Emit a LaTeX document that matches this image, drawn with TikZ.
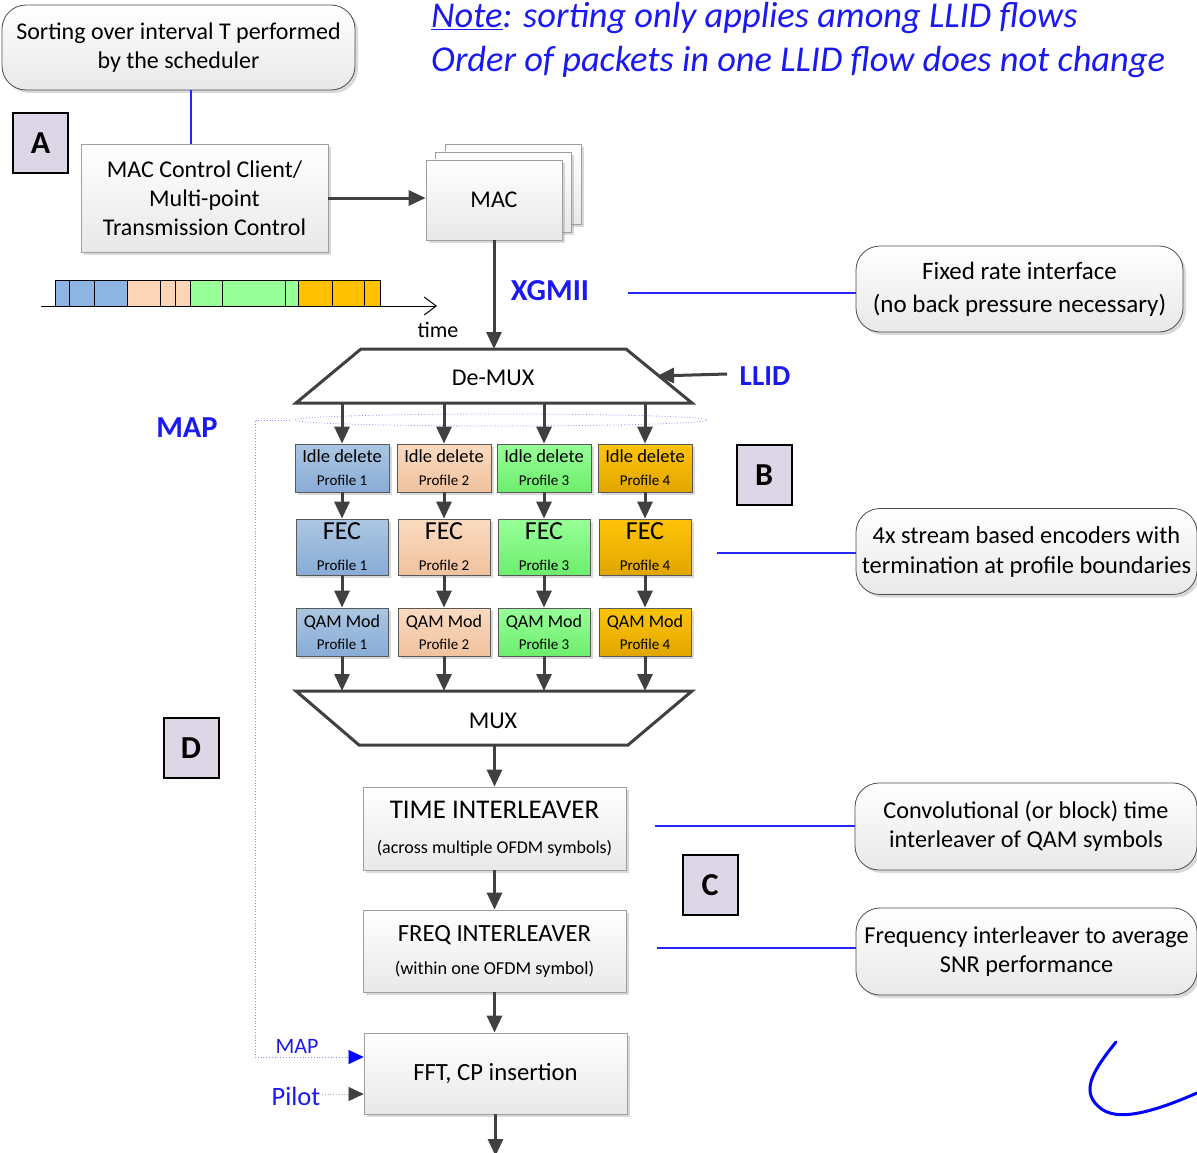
\documentclass[tikz,border=0pt]{standalone}
\usepackage{fontspec}
\setmainfont{Carlito}
\usetikzlibrary{arrows.meta,shadows,calc}
\definecolor{arr}{HTML}{404040}
\definecolor{lav}{HTML}{DCD6E6}
\definecolor{txtblue}{HTML}{1A1AF0}
\definecolor{bA}{HTML}{ABC6E2}\definecolor{bB}{HTML}{88ACD6}
\definecolor{pA}{HTML}{FADAC0}\definecolor{pB}{HTML}{F0C29E}
\definecolor{gA}{HTML}{98FF98}\definecolor{gB}{HTML}{6CEE6C}
\definecolor{oA}{HTML}{FFC408}\definecolor{oB}{HTML}{E0A600}
\definecolor{tlb}{HTML}{8DB4E2}\definecolor{tlp}{HTML}{FBD5B5}
\definecolor{tlg}{HTML}{99FF99}\definecolor{tlo}{HTML}{FFC000}
\newcommand{\fs}[2]{\fontsize{#1}{#2}\selectfont}
\tikzset{
  shad/.style={drop shadow={opacity=0.3,shadow xshift=3pt,shadow yshift=-3pt}},
  graybox/.style={draw=gray!75, line width=0.8pt, top color=white, bottom color=gray!18, shad, align=center, inner sep=0pt},
  callout/.style={graybox, draw=gray!60!black, rounded corners=24pt, minimum height=86pt},
  flow/.style={draw=arr, line width=3pt, -{Triangle[length=17pt,width=15pt]}},
  letterbox/.style={draw=black, line width=2pt, fill=lav, minimum width=55pt, minimum height=60pt, font=\fs{32}{32}\bfseries, inner sep=0pt},
  bluelink/.style={draw=blue!85!white, line width=1.2pt},
  profbox/.style={draw=gray!70!black, line width=0.8pt, shad, align=center, inner sep=0pt},
  idle/.style={profbox, minimum width=94pt, minimum height=48pt, font=\fs{18.5}{23}},
  fec/.style={profbox, minimum width=92pt, minimum height=56pt, font=\fs{26}{31}},
  qam/.style={profbox, minimum width=92pt, minimum height=48pt, font=\fs{18}{22}},
  c1/.style={top color=bA, bottom color=bB},
  c2/.style={top color=pA, bottom color=pB},
  c3/.style={top color=gA, bottom color=gB},
  c4/.style={top color=oA, bottom color=oB},
  trap/.style={draw=arr, line width=3pt, fill=white, line join=miter},
  seg/.style={draw=black, line width=1pt},
  dots/.style={draw=blue!45!white, line width=0.8pt, dotted},
}
\begin{document}
\begin{tikzpicture}[x=1pt,y=-1pt]
\useasboundingbox (0,0) rectangle (1197,1153);

% --- top callout and A
\node[callout, minimum width=353pt, minimum height=85pt, font=\fs{24}{29}] (sort) at (178.5,47.5) {Sorting over interval T performed\\by the scheduler};
\node[letterbox] (A) at (40.5,143) {A};
\node[graybox, minimum width=247pt, minimum height=108pt, font=\fs{24}{29}] (mcc) at (204.5,198) {MAC Control Client/\\Multi-point\\Transmission Control};
\draw[bluelink] (sort.south -| 191,0) -- (mcc.north -| 191,0);

% --- MAC stack
\node[graybox, minimum width=136pt, minimum height=80pt] (mac3) at (513,184) {};
\node[graybox, minimum width=136pt, minimum height=80pt] (mac2) at (503,192) {};
\node[graybox, minimum width=136pt, minimum height=80pt, font=\fs{24}{29}] (mac) at (494,200) {MAC};
\draw[flow] (mcc.east) -- (mcc.east -| mac.west);

% --- note text
\node[anchor=west, text=txtblue, font=\fs{36.4}{42}\itshape, inner sep=0pt] (note1) at (431,18) {\underline{Note}: sorting only applies among LLID flows};
\node[anchor=west, text=txtblue, font=\fs{36.4}{42}\itshape, inner sep=0pt] (note2) at (431,62) {Order of packets in one LLID flow does not change};

% --- timeline
\coordinate (t0) at (41,306);
\coordinate (t1) at (437,306);
\draw[seg, -{Straight Barb[length=12pt,width=18pt,line width=1pt]}] (t0) -- (t1);
\foreach \a/\b/\c in {55/69/tlb,69/94/tlb,94/127/tlb,127/160/tlp,160/175/tlp,175/190/tlp,190/222/tlg,222/285/tlg,285/298/tlg,298/332/tlo,332/364/tlo,364/380/tlo}
  \draw[seg, fill=\c] (\a,280) rectangle (\b,306);
\node[font=\fs{22}{26}, inner sep=0pt] (time) at (438,330) {time};

% --- XGMII
\node[font=\fs{30.5}{34}\bfseries, text=txtblue, inner sep=0pt] (xgmii) at (550,291) {XGMII};
\node[callout, minimum width=327pt, font=\fs{25}{33}] (fixed) at (1019.5,289) {Fixed rate interface\\(no back pressure necessary)};
\coordinate (xl) at (628,293);
\draw[bluelink] (xl) -- (xl -| fixed.west);

% --- De-MUX
\draw[trap] (361,349) -- (626,349) -- (692,403) -- (296,403) -- cycle;
\node[minimum width=265pt, minimum height=54pt, inner sep=0pt, font=\fs{24}{29}] (demux) at (493,378) {De-MUX};
\draw[flow] (mac.south) -- (mac.south |- 0,349);
\node[font=\fs{29}{33}\bfseries, text=txtblue, inner sep=0pt] (llid) at (765,376) {LLID};
\coordinate (llidtail) at (727,374);
\coordinate (llidtip) at (657,376);
\draw[flow] (llidtail) -- (llidtip);

% --- MAP dotted
\node[font=\fs{30.5}{34}\bfseries, text=txtblue, inner sep=0pt] (maptop) at (187,428) {MAP};
\draw[dots] (501,420) ellipse (206pt and 6pt);

% --- profile columns
\foreach \i/\x in {1/342,2/444,3/544,4/645}{
  \node[idle, c\i] (idle\i) at (\x,468) {Idle delete\\{\fs{15}{23}Profile \i}};
  \node[fec, c\i] (fec\i) at (\x,547) {FEC\\{\fs{15}{31}Profile \i}};
  \node[qam, c\i] (qam\i) at (\x,632) {QAM Mod\\{\fs{15}{22}Profile \i}};
}
\node[letterbox] (B) at (764,475) {B};

% --- MUX
\draw[trap] (296,691) -- (692,691) -- (628,745) -- (359,745) -- cycle;
\node[minimum width=265pt, minimum height=54pt, inner sep=0pt, font=\fs{24}{29}] (mux) at (493,721) {MUX};

\foreach \i/\x in {1/342,2/444,3/544,4/645}{
  \draw[flow] (\x,403) -- (idle\i.north);
  \draw[flow] (idle\i.south) -- (fec\i.north);
  \draw[flow] (fec\i.south) -- (qam\i.north);
  \draw[flow] (qam\i.south) -- (\x,691);
}

\node[callout, minimum width=341pt, font=\fs{24.4}{30}] (enc) at (1026.5,551.5) {4x stream based encoders with\\termination at profile boundaries};
\coordinate (encl) at (717,553);
\draw[bluelink] (encl) -- (encl -| enc.west);

\node[letterbox] (D) at (191,748) {D};

% --- interleavers
\node[graybox, minimum width=263pt, minimum height=83pt, font=\fs{27}{35}] (ti) at (494.5,828.5) {TIME INTERLEAVER\\{\fs{18}{35}(across multiple OFDM symbols)}};
\draw[flow] (ti.north |- 0,745) -- (ti.north);
\node[graybox, minimum width=263pt, minimum height=82pt, font=\fs{24.7}{33}] (fi) at (494.5,951) {FREQ INTERLEAVER\\{\fs{18.3}{33}(within one OFDM symbol)}};
\draw[flow] (ti.south) -- (fi.north);
\node[graybox, minimum width=263pt, minimum height=81pt, font=\fs{24.7}{28}] (fft) at (495.5,1073.5) {FFT, CP insertion};
\draw[flow] (fi.south) -- (fi.south |- fft.north);
\coordinate (out) at (495.5,1156);
\draw[flow] (fft.south) -- (out);

\node[letterbox] (C) at (710,885) {C};

\node[callout, minimum width=342pt, minimum height=87pt, font=\fs{24.2}{29}] (conv) at (1026,826.5) {Convolutional (or block) time\\interleaver of QAM symbols};
\coordinate (convl) at (655,826);
\draw[bluelink] (convl) -- (convl -| conv.west);
\node[callout, minimum width=341pt, minimum height=87pt, font=\fs{24.3}{29}] (freqc) at (1026.5,951.5) {Frequency interleaver to average\\SNR performance};
\coordinate (freql) at (657,948);
\draw[bluelink] (freql) -- (freql -| freqc.west);

% --- MAP / Pilot inputs
\node[font=\fs{22}{26}, text=txtblue, inner sep=0pt] (mapin) at (297,1046) {MAP};
\node[font=\fs{26.5}{30}, text=txtblue, inner sep=0pt] (pilot) at (296,1096) {Pilot};
\coordinate (d0) at (290,420);
\coordinate (d1) at (255,420);
\coordinate (d2) at (255,1057);
\draw[dots] (d0) -- (d1) -- (d2) -- (d2 -| fft.west);
\draw[draw=blue, line width=0.1pt, -{Triangle[length=15pt,width=14pt,fill=blue]}] ($(fft.west|-d2)+(-14,0)$) -- (d2 -| fft.west);
\coordinate (p0) at (322,1094);
\draw[draw=gray!60, dotted, line width=0.8pt] (p0) -- ($(p0 -| fft.west)+(-14,0)$);
\draw[draw=arr, line width=0.1pt, -{Triangle[length=15pt,width=14pt,fill=arr]}] ($(p0 -| fft.west)+(-14,0)$) -- (p0 -| fft.west);

% --- blue scribble
\draw[blue, line width=3pt, line cap=round] (1116,1042) .. controls (1095,1068) and (1080,1090) .. (1098,1106) .. controls (1112,1120) and (1140,1118) .. (1197,1093);
\end{tikzpicture}
\end{document}
